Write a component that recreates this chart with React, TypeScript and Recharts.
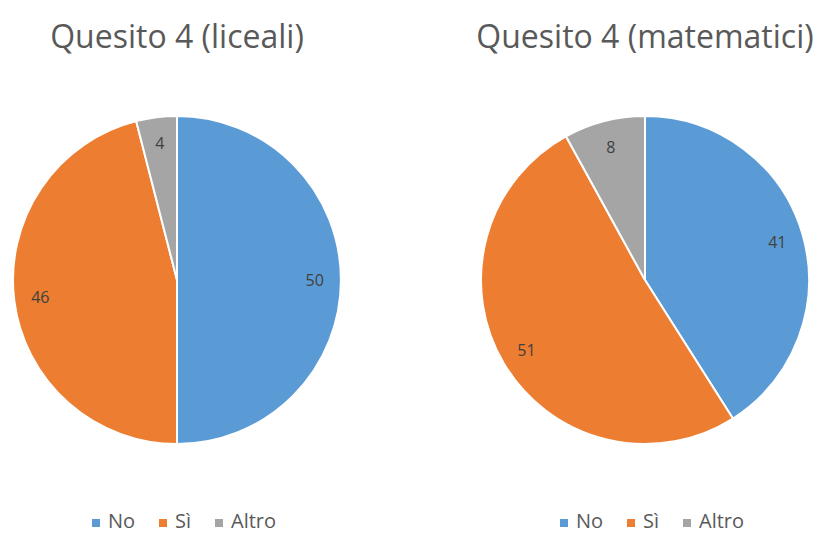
import { PieChart, Pie, Cell, Legend } from "recharts";

const categories = ["No", "Sì", "Altro"];
const liceali = [50, 46, 4];
const matematici = [41, 51, 8];
const colors = ["#5B9BD5", "#ED7D31", "#A5A5A5"];

const RAD = Math.PI / 180;
const FONT = "'Open Sans', sans-serif";

const renderLabel = (props: any) => {
  const { cx, cy, midAngle, outerRadius, value } = props;
  const r = outerRadius * 0.84;
  const x = cx + r * Math.cos(-midAngle * RAD);
  const y = cy + r * Math.sin(-midAngle * RAD);
  return (
    <text
      x={x}
      y={y}
      fill="#404040"
      fontSize={16}
      fontFamily={FONT}
      textAnchor="middle"
      dominantBaseline="central"
    >
      {value}
    </text>
  );
};

function QuesitoPie({ title, values, left }: { title: string; values: number[]; left: number }) {
  const data = categories.map((name, i) => ({ name, value: values[i] }));
  return (
    <div style={{ position: "absolute", left, top: 0, width: 354, height: 533 }}>
      <div
        style={{
          position: "absolute",
          top: 14,
          width: "100%",
          textAlign: "center",
          fontFamily: FONT,
          fontSize: 32,
          lineHeight: "44px",
          color: "#595959",
          whiteSpace: "nowrap",
        }}
      >
        {title}
      </div>
      <PieChart width={354} height={533} margin={{ top: 0, right: 0, bottom: 0, left: 0 }}>
        <Pie
          data={data}
          dataKey="value"
          nameKey="name"
          cx={177}
          cy={280}
          outerRadius={164}
          startAngle={90}
          endAngle={-270}
          stroke="#ffffff"
          strokeWidth={2}
          label={renderLabel}
          labelLine={false}
          isAnimationActive={false}
        >
          {data.map((d, i) => (
            <Cell key={d.name} fill={colors[i]} />
          ))}
        </Pie>
        <Legend
          verticalAlign="bottom"
          iconType="square"
          iconSize={8}
          itemSorter={(item: any) => categories.indexOf(item.value)}
          wrapperStyle={{ bottom: -1, paddingLeft: 12, fontFamily: FONT, fontSize: 20 }}
          formatter={(v: string) => (
            <span
              style={{
                color: "#595959",
                paddingLeft: 4,
                paddingRight: v === categories[categories.length - 1] ? 0 : 14,
              }}
            >
              {v}
            </span>
          )}
        />
      </PieChart>
    </div>
  );
}

export default function App() {
  return (
    <div style={{ position: "absolute", left: 0, top: 0, width: 820, height: 533, background: "#fff" }}>
      <QuesitoPie title="Quesito 4 (liceali)" values={liceali} left={0} />
      <QuesitoPie title="Quesito 4 (matematici)" values={matematici} left={468} />
    </div>
  );
}
